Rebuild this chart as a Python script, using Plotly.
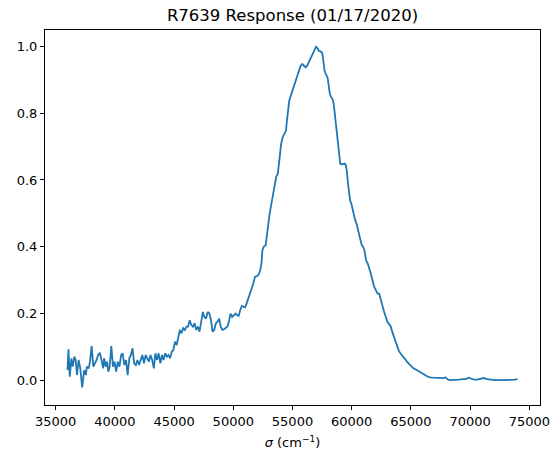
import plotly.graph_objects as go

# Wavenumber (cm^-1) and normalized response
sigma = [
    36000, 36080, 36190, 36330, 36440, 36580, 36690, 36800, 36940, 37080,
    37240, 37410, 37550, 37630, 37790, 37900, 38040, 38180, 38320, 38460,
    38590, 38730, 38870, 39010, 39090, 39230, 39340, 39450, 39560, 39700,
    39840, 39970, 40110, 40250, 40390, 40530, 40660, 40800, 40940, 41080,
    41220, 41350, 41490, 41630, 41770, 41910, 42040, 42180, 42320, 42460,
    42600, 42730, 42870, 43010, 43150, 43290, 43420, 43560, 43700, 43840,
    43980, 44110, 44250, 44390, 44530, 44670, 44800, 44940, 45080, 45220,
    45360, 45490, 45630, 45770, 45910, 46050, 46180, 46320, 46460, 46600,
    46740, 46870, 47010, 47150, 47290, 47430, 47560, 47700, 47840, 47980,
    48120, 48250, 48390, 48530, 48670, 48810, 48940, 49080, 49220, 49360,
    49500, 49630, 49770, 49910, 50050, 50190,
    50310, 50450, 50590, 50720, 50860, 51000, 51140, 51280, 51410, 51550,
    51690, 51830, 51970, 52100, 52240, 52380, 52460, 52570, 52740, 52850,
    52930, 53070, 53210, 53350, 53480, 53620, 53760, 53840, 53950, 54040,
    54170, 54310, 54450, 54530, 54640, 54730, 54860, 55000, 55140, 55280,
    55360, 55470, 55550, 55690, 55830, 55970, 56110, 56240, 56380, 56520,
    56660, 56800, 56880, 56990, 57100, 57210, 57350, 57490, 57570, 57620,
    57710, 57820, 57960, 58040, 58150, 58260, 58370, 58480, 58590, 58670,
    58760, 58840, 58920, 59030, 59140, 59280, 59420, 59500, 59580, 59690,
    59780, 59860, 59970, 60110, 60190, 60300, 60410, 60520, 60630, 60740,
    60850, 60960, 61070, 61210, 61350, 61460, 61570, 61680, 61790, 61900,
    62040, 62180, 62320,
    62450, 62590, 62730, 62870, 63000, 63140, 63280, 63420, 63560, 63690,
    63830, 63970, 64110, 64380, 64520, 64660, 64800, 64940, 65070, 65210,
    65490, 65760, 66040, 66320, 66590, 66870, 67140, 67420, 67700, 67920,
    68110, 68300, 68520, 68800, 69080, 69350, 69630, 69900, 70130, 70320,
    70590, 70870, 71150, 71420, 71700, 72110, 72390, 72940, 73490, 73770,
    74000,
]
response = [
    0.031, 0.093, 0.011, 0.066, 0.041, 0.071, 0.061, 0.016, 0.061, 0.036,
    -0.021, 0.031, 0.016, 0.041, 0.036, 0.056, 0.103, 0.041, 0.051, 0.061,
    0.076, 0.083, 0.061, 0.036, 0.066, 0.041, 0.056, 0.026, 0.041, 0.103,
    0.041, 0.056, 0.026, 0.056, 0.041, 0.076, 0.081, 0.046, 0.061, 0.016,
    0.066, 0.076, 0.096, 0.051, 0.046, 0.061, 0.046, 0.061, 0.076, 0.051,
    0.076, 0.066, 0.056, 0.076, 0.061, 0.036, 0.081, 0.061, 0.081, 0.051,
    0.076, 0.061, 0.081, 0.071, 0.076, 0.066, 0.086, 0.091, 0.116, 0.106,
    0.131, 0.151, 0.141, 0.156, 0.151, 0.161, 0.161, 0.180, 0.166, 0.161,
    0.171, 0.151, 0.161, 0.146, 0.176, 0.205, 0.190, 0.185, 0.205, 0.200,
    0.180, 0.146, 0.151, 0.171, 0.176, 0.185, 0.161, 0.151, 0.153, 0.156,
    0.161, 0.176, 0.200, 0.190, 0.195, 0.200,
    0.196, 0.193, 0.211, 0.223, 0.221, 0.219, 0.232, 0.245, 0.260, 0.275,
    0.290, 0.310, 0.312, 0.315, 0.325, 0.350, 0.390, 0.400, 0.405, 0.430,
    0.460, 0.499, 0.529, 0.559, 0.584, 0.609, 0.619, 0.649, 0.679, 0.708,
    0.728, 0.738, 0.748, 0.778, 0.818, 0.838, 0.853, 0.868, 0.883, 0.893,
    0.903, 0.917, 0.927, 0.942, 0.947, 0.942, 0.937, 0.942, 0.952, 0.967,
    0.972, 0.982, 0.992, 0.999, 0.995, 0.987, 0.985, 0.982, 0.967, 0.947,
    0.927, 0.917, 0.907, 0.888, 0.858, 0.848, 0.843, 0.828, 0.788, 0.758,
    0.728, 0.698, 0.669, 0.649, 0.647, 0.647, 0.649, 0.644, 0.629, 0.589,
    0.559, 0.539, 0.529, 0.509, 0.489, 0.479, 0.469, 0.449, 0.430, 0.420,
    0.405, 0.400, 0.390, 0.360, 0.350, 0.340, 0.325, 0.310, 0.295, 0.280,
    0.270, 0.260, 0.260,
    0.240, 0.220, 0.206, 0.191, 0.176, 0.169, 0.163, 0.146, 0.131, 0.116,
    0.101, 0.089, 0.081, 0.071, 0.063, 0.056, 0.051, 0.046, 0.041, 0.036,
    0.031, 0.026, 0.019, 0.013, 0.009, 0.008, 0.008, 0.006, 0.007, 0.009,
    0.003, 0.001, 0.001, 0.001, 0.002, 0.004, 0.004, 0.008, 0.004, 0.002,
    0.002, 0.005, 0.007, 0.004, 0.002, 0.001, 0.001, 0.001, 0.001, 0.002,
    0.004,
]

title_text = "R7639 Response (01/17/2020)"
x_title = "<i>σ</i> (cm<sup>−1</sup>)"

FONT = "DejaVu Sans"

fig = go.Figure()
fig.add_trace(go.Scatter(
    x=sigma, y=response, mode="lines",
    line=dict(color="#1f77b4", width=1.8),
    showlegend=False, hoverinfo="skip",
))

axis_common = dict(
    showgrid=False, zeroline=False,
    showline=True, linecolor="black", linewidth=1, mirror=True,
    ticks="outside", ticklen=4, tickwidth=1, tickcolor="black",
    tickfont=dict(family=FONT, size=13, color="black"),
    ticklabeloverflow="allow",
)

fig.update_layout(
    width=559, height=459,
    margin=dict(l=45, r=9, t=30, b=54),
    paper_bgcolor="white", plot_bgcolor="white",
    font=dict(family=FONT, color="black"),
    title=dict(
        text=title_text, x=0.5, xref="paper", xanchor="center",
        y=1 - 15 / 459, yref="container", yanchor="middle",
        font=dict(family=FONT, size=16.5, color="black"),
    ),
    xaxis=dict(
        range=[34100, 75900], tick0=35000, dtick=5000, tickformat="d",
        title=dict(text=x_title, standoff=10,
                   font=dict(family=FONT, size=13, color="black")),
        **axis_common,
    ),
    yaxis=dict(
        range=[-0.0737, 1.049], tick0=0, dtick=0.2, tickformat=".1f",
        **axis_common,
    ),
)

fig.write_html("out.html")
